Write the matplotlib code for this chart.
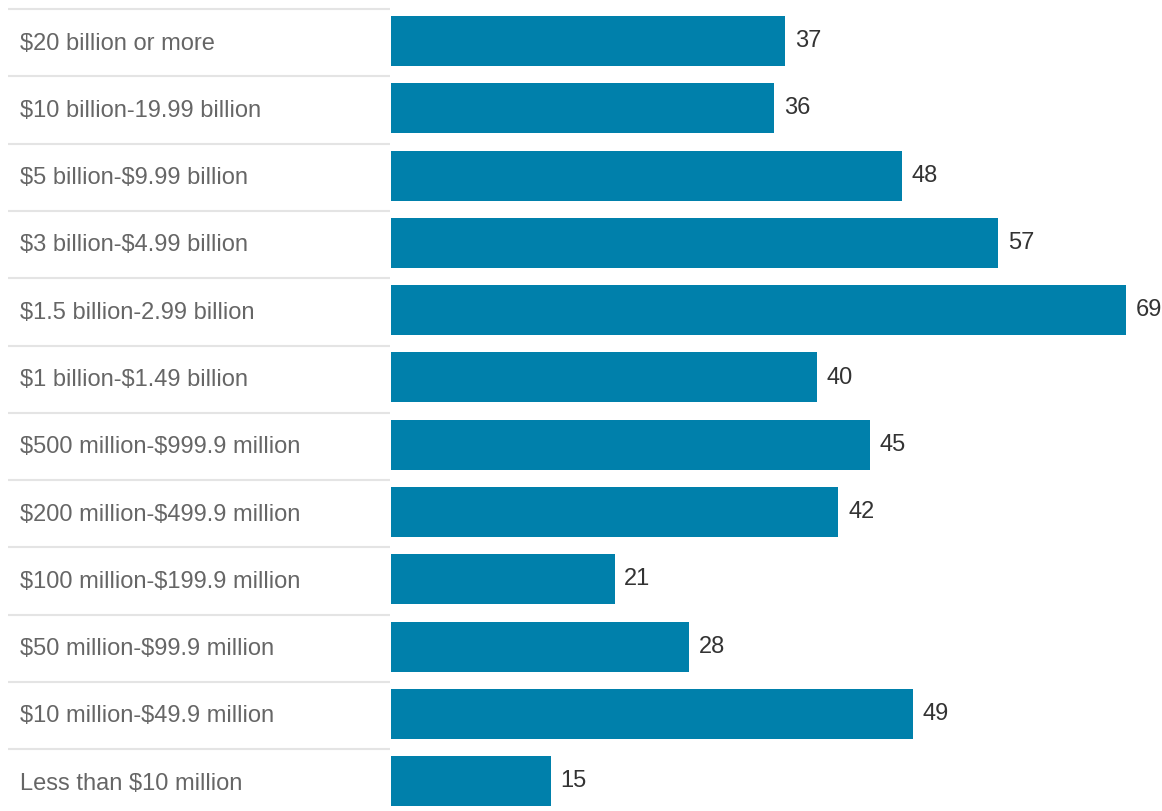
import matplotlib.pyplot as plt

plt.rcParams['text.parse_math'] = False

categories = [
    "$20 billion or more",
    "$10 billion-19.99 billion",
    "$5 billion-$9.99 billion",
    "$3 billion-$4.99 billion",
    "$1.5 billion-2.99 billion",
    "$1 billion-$1.49 billion",
    "$500 million-$999.9 million",
    "$200 million-$499.9 million",
    "$100 million-$199.9 million",
    "$50 million-$99.9 million",
    "$10 million-$49.9 million",
    "Less than $10 million",
]
values = [37, 36, 48, 57, 69, 40, 45, 42, 21, 28, 49, 15]

# --- layout (pixels of the 1162x811 figure) ---
W, H = 1162, 811
bar_x0 = 391        # where bars start
px_per_unit = 10.65
row_pitch = 67.3
first_center = 41

fig = plt.figure(figsize=(W / 100, H / 100), dpi=100)
ax = fig.add_axes([0, 0, 1, 1])
ax.set_xlim(-bar_x0 / px_per_unit, (W - bar_x0) / px_per_unit)
ax.set_ylim((H - first_center) / row_pitch, -first_center / row_pitch)
ax.axis('off')

rows = list(range(len(categories)))
ax.barh(rows, values, height=50 / row_pitch, color='#0080ab', left=0)

label_x = (20 - bar_x0) / px_per_unit
line_x0 = (8 - bar_x0) / px_per_unit
line_x1 = (390 - bar_x0) / px_per_unit
for i, (cat, v) in enumerate(zip(categories, values)):
    sep_y = i - 32 / row_pitch
    ax.plot([line_x0, line_x1], [sep_y, sep_y], color='#e4e4e4', lw=1.5,
            solid_capstyle='butt')
    ax.text(label_x, i, cat, va='center_baseline', ha='left', fontsize=17,
            family='Liberation Sans', color='#666666')
    ax.annotate(str(v), xy=(v, i), xytext=(7, 0), textcoords='offset points',
                va='center', ha='left', fontsize=17,
                family='Liberation Sans', color='#333333')

fig.savefig('out.png', dpi=100)
